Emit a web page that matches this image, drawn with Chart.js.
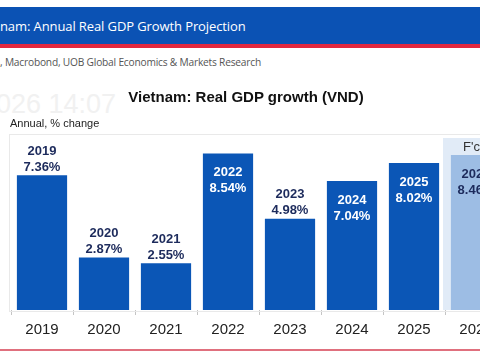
<!DOCTYPE html>
<html>
<head>
<meta charset="utf-8">
<script src="https://cdn.jsdelivr.net/npm/chart.js@4"></script>
<style>
  html, body { margin:0; padding:0; width:480px; height:360px; overflow:hidden; background:#fff; position:relative; }
  #band { position:absolute; left:0; top:7px; width:480px; height:37px; background:#0b52b4; }
  #band span { position:absolute; left:0; top:10px; color:#fff; font:13px "Open Sans", sans-serif; letter-spacing:-0.1px; white-space:nowrap; }
  #redline { position:absolute; left:0; top:44px; width:480px; height:4px; background:#e2283f; }
  #source { position:absolute; left:0; top:55px; color:#555; font:10.2px "Open Sans", sans-serif; white-space:nowrap; letter-spacing:-0.2px; }
  #wm { position:absolute; left:-4px; top:89px; color:#f1f1f1; font:27px "Liberation Sans", sans-serif; white-space:nowrap; }
  #title { position:absolute; left:0; width:492px; top:88px; text-align:center; color:#111; font:bold 15px "Liberation Sans", Arial, sans-serif; }
  #unit { position:absolute; left:10px; top:117px; color:#222; font:11px "Liberation Sans", Arial, sans-serif; }
  #bottomline { position:absolute; left:0; top:349px; width:480px; height:2px; background:#e0707e; }
  #wrap { position:absolute; left:0; top:0; width:510px; height:360px; }
</style>
</head>
<body>
<div id="band"><span>nam: Annual Real GDP Growth Projection</span></div>
<div id="redline"></div>
<div id="source">, Macrobond, UOB Global Economics &amp; Markets Research</div>
<div id="wm">026 14:07</div>
<div id="wrap"><canvas id="c" width="510" height="360"></canvas></div>
<div id="title">Vietnam: Real GDP growth (VND)</div>
<div id="unit">Annual, % change</div>
<div id="bottomline"></div>
<script>
// ---- data ----
const years = ['2019','2020','2021','2022','2023','2024','2025','2026'];
const growth = [7.36, 2.87, 2.55, 8.54, 4.98, 7.04, 8.02, 8.46];
const labelPlacement = ['above','above','above','inside','above','inside','inside','inside'];
const forecastFrom = '2026';
const forecastText = "F'cast";

const fcIdx = years.indexOf(forecastFrom);
const barColors = years.map((y, i) => i >= fcIdx ? '#9dbde4' : '#0b56b6');

const decorPlugin = {
  id: 'decor',
  beforeDatasetsDraw(chart) {
    const { ctx, chartArea, scales } = chart;
    const x = scales.x, y = scales.y;
    ctx.save();
    // panel border
    ctx.strokeStyle = '#e9e9e9';
    ctx.lineWidth = 1;
    ctx.strokeRect(chartArea.left - 1.5, chartArea.top - 1.5, chartArea.right - chartArea.left + 3, chartArea.bottom - chartArea.top + 3);
    // forecast shading
    const half = (x.getPixelForValue(1) - x.getPixelForValue(0)) / 2;
    const fx = x.getPixelForValue(fcIdx) - half - 2;
    ctx.fillStyle = '#e1ebf7';
    ctx.fillRect(fx, chartArea.top + 2, chartArea.right + 10 - fx, y.getPixelForValue(0) - chartArea.top - 2);
    ctx.fillStyle = '#333';
    ctx.font = '13px "Liberation Sans", Arial, sans-serif';
    ctx.textAlign = 'left';
    ctx.textBaseline = 'middle';
    ctx.fillText(forecastText, fx + 20, chartArea.top + 11);
    ctx.restore();
  },
  afterDatasetsDraw(chart) {
    const { ctx } = chart;
    const meta = chart.getDatasetMeta(0);
    ctx.save();
    ctx.font = 'bold 13px "Liberation Sans", Arial, sans-serif';
    ctx.textAlign = 'center';
    ctx.textBaseline = 'middle';
    meta.data.forEach((bar, i) => {
      const top = bar.y;
      const val = growth[i].toFixed(2) + '%';
      if (labelPlacement[i] === 'inside') {
        ctx.fillStyle = i >= fcIdx ? '#1d2b5c' : '#ffffff';
        ctx.fillText(years[i], bar.x, top + 19);
        ctx.fillText(val, bar.x, top + 35);
      } else {
        ctx.fillStyle = '#1d2b5c';
        ctx.fillText(years[i], bar.x, top - 24);
        ctx.fillText(val, bar.x, top - 8);
      }
    });
    ctx.restore();
  }
};

new Chart(document.getElementById('c'), {
  type: 'bar',
  data: {
    labels: years,
    datasets: [{
      data: growth,
      backgroundColor: barColors,
      borderWidth: 0,
      barPercentage: 0.81,
      categoryPercentage: 1.0
    }]
  },
  options: {
    responsive: false,
    animation: false,
    devicePixelRatio: 1,
    layout: { padding: { left: 11, right: 3, top: 136, bottom: 0 } },
    plugins: { legend: { display: false }, tooltip: { enabled: false } },
    scales: {
      y: { display: false, min: 0, max: 9.5 },
      x: {
        border: { display: false },
        grid: { drawOnChartArea: false, drawTicks: true, tickLength: 5, color: '#c4c4c4', offset: true },
        ticks: { color: '#222', font: { family: '"Liberation Sans", Arial, sans-serif', size: 15 }, padding: 6, maxRotation: 0, autoSkip: false },
        afterFit(scale) { scale.height = 50; }
      }
    }
  },
  plugins: [decorPlugin]
});
</script>
</body>
</html>
